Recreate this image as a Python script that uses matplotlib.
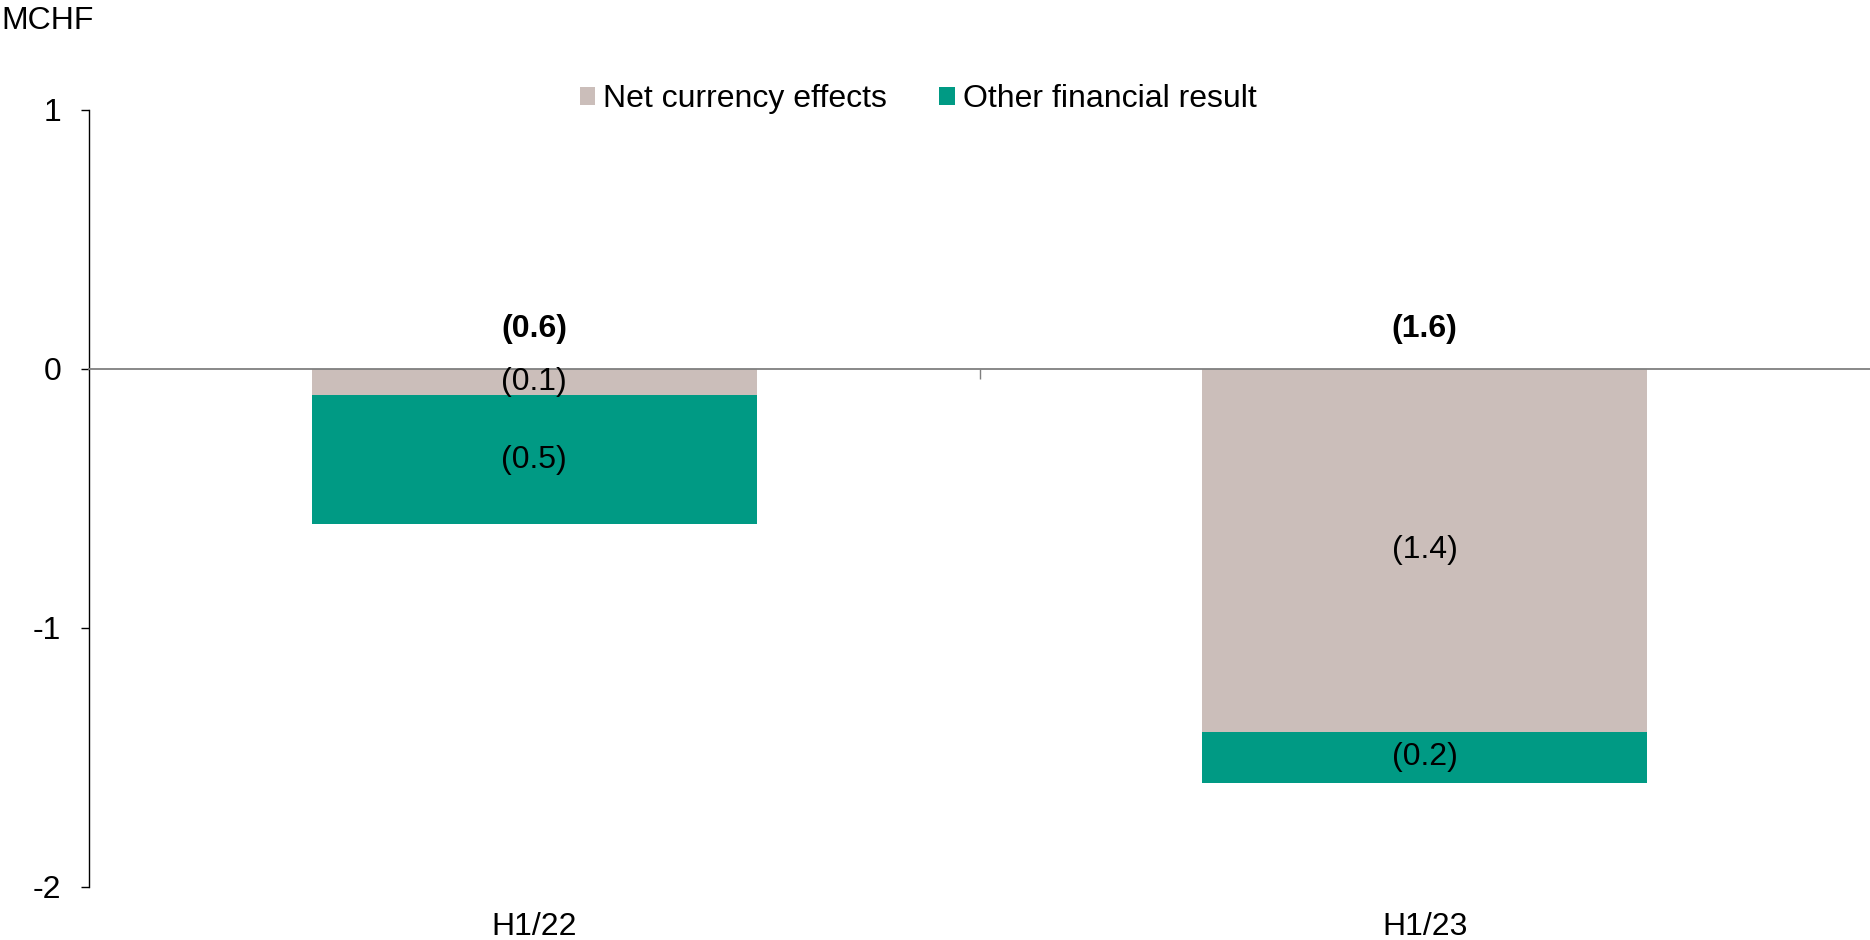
import matplotlib
matplotlib.use("Agg")
import matplotlib.pyplot as plt

plt.rcParams['font.family'] = ['Liberation Sans', 'DejaVu Sans']

categories = ["H1/22", "H1/23"]
net_currency = [-0.1, -1.4]
other_financial = [-0.5, -0.2]
totals = [-0.6, -1.6]
series_names = ["Net currency effects", "Other financial result"]
colors = ["#CBBEBA", "#009A84"]

def fmt(v):
    return "({:.1f})".format(abs(v)) if v < 0 else "{:.1f}".format(v)

fig = plt.figure(figsize=(18.7, 9.4), dpi=100)
ax = fig.add_axes([0.0476, 0.0564, 1 - 0.0476, 0.883 - 0.0564])

x = list(range(len(categories)))
b1 = ax.bar(x, net_currency, width=0.5, color=colors[0], label=series_names[0], zorder=2)
b2 = ax.bar(x, other_financial, width=0.5, bottom=net_currency, color=colors[1],
            label=series_names[1], zorder=2)

FS = 23
for i in x:
    ax.text(i, net_currency[i] / 2, fmt(net_currency[i]), ha='center', va='center', fontsize=FS, zorder=5)
    ax.text(i, net_currency[i] + other_financial[i] / 2, fmt(other_financial[i]),
            ha='center', va='center', fontsize=FS, zorder=5)
    ax.annotate(fmt(totals[i]), xy=(i, 0), xytext=(0, 29), textcoords='offset points',
                ha='center', va='center', fontsize=FS, fontweight='bold')
    ax.annotate(categories[i], xy=(i, 0), xycoords=('data', 'axes fraction'),
                xytext=(0, -29), textcoords='offset points', ha='center', va='center', fontsize=FS)

ax.set_xlim(-0.5, 1.5)
ax.set_ylim(-2, 1)
ax.set_yticks([-2, -1, 0, 1])
ax.set_yticklabels(["-2", "-1", "0", "1"])
ax.tick_params(axis='y', direction='out', length=6, width=1, labelsize=FS, pad=14, color='black')

ax.spines['top'].set_visible(False)
ax.spines['right'].set_visible(False)
ax.spines['left'].set_color('black')
ax.spines['left'].set_linewidth(1)
ax.spines['bottom'].set_position(('data', 0))
ax.spines['bottom'].set_color('#7F7F7F')
ax.spines['bottom'].set_linewidth(1.3)
ax.spines['bottom'].set_zorder(4)
ax.set_xticks([0.5])
ax.set_xticklabels([""])
ax.tick_params(axis='x', direction='out', length=7, width=1, color='#7F7F7F')

fig.text(0.001, 1 - 21 / 940, "MCHF", fontsize=FS, ha='left', va='center')

fig.legend(handles=[b1, b2], labels=series_names, loc='center', bbox_to_anchor=(0.491, 1 - 99 / 940),
           ncol=2, frameon=False, fontsize=FS, handlelength=0.49, handleheight=0.49,
           handletextpad=0.25, columnspacing=1.63, borderaxespad=0)

fig.savefig("out.png", dpi=100)
